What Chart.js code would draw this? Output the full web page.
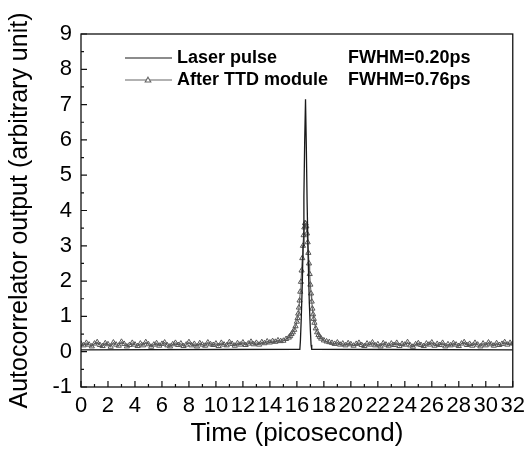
<!DOCTYPE html>
<html>
<head>
<meta charset="utf-8">
<script src="https://cdn.jsdelivr.net/npm/chart.js@4"></script>
<style>
  html, body { margin: 0; padding: 0; background: #fff; }
  #wrap { width: 531px; height: 458px; }
</style>
</head>
<body>
<div id="wrap"><canvas id="chart"></canvas></div>
<script>
const FONT = "'Liberation Sans', Arial, sans-serif";

// laser pulse trace (thin black line)
const laserTime = [0, 16.22, 16.26, 16.32, 16.4, 16.46, 16.52, 16.58, 16.64, 16.7, 16.76, 16.84, 16.92, 17.0, 17.05, 17.1, 32];
const laserValue = [0.05, 0.07, 0.3, 0.9, 1.9, 3.0, 4.4, 6.0, 7.15, 5.8, 4.2, 2.6, 1.4, 0.6, 0.2, 0.07, 0.05];

// after TTD module (grey line with open triangles)
const ttdTime = [
  0, 0.2, 0.4, 0.6, 0.8, 1, 1.2, 1.4, 1.6, 1.8,
  2, 2.2, 2.4, 2.6, 2.8, 3, 3.2, 3.4, 3.6, 3.8,
  4, 4.2, 4.4, 4.6, 4.8, 5, 5.2, 5.4, 5.6, 5.8,
  6, 6.2, 6.4, 6.6, 6.8, 7, 7.2, 7.4, 7.6, 7.8,
  8, 8.2, 8.4, 8.6, 8.8, 9, 9.2, 9.4, 9.6, 9.8,
  10, 10.2, 10.4, 10.6, 10.8, 11, 11.2, 11.4, 11.6, 11.8,
  12, 12.2, 12.4, 12.6, 12.8, 13, 13.2, 13.4, 13.6, 13.8,
  14, 14.2, 14.4, 14.6, 14.8,
  15, 15.2, 15.4, 15.5, 15.6, 15.7, 15.8, 15.9, 16, 16.05,
  16.1, 16.15, 16.2, 16.25, 16.3, 16.35, 16.4, 16.45, 16.5, 16.55,
  16.6, 16.65, 16.7, 16.75, 16.8, 16.85, 16.9, 16.95, 17, 17.05,
  17.1, 17.15, 17.2, 17.25, 17.3, 17.4, 17.5, 17.6, 17.7, 17.8,
  18, 18.2, 18.4,
  18.6, 18.8, 19, 19.2, 19.4, 19.6, 19.8, 20, 20.2, 20.4,
  20.6, 20.8, 21, 21.2, 21.4, 21.6, 21.8, 22, 22.2, 22.4,
  22.6, 22.8, 23, 23.2, 23.4, 23.6, 23.8, 24, 24.2, 24.4,
  24.6, 24.8, 25, 25.2, 25.4, 25.6, 25.8, 26, 26.2, 26.4,
  26.6, 26.8, 27, 27.2, 27.4, 27.6, 27.8, 28, 28.2, 28.4,
  28.6, 28.8, 29, 29.2, 29.4, 29.6, 29.8, 30, 30.2, 30.4,
  30.6, 30.8, 31, 31.2, 31.4, 31.6, 31.8, 32
];
const ttdValue = [
  0.22, 0.18, 0.25, 0.2, 0.15, 0.23, 0.27, 0.19, 0.16, 0.24,
  0.21, 0.14, 0.26, 0.2, 0.17, 0.28, 0.22, 0.15, 0.19, 0.25,
  0.2, 0.16, 0.23, 0.18, 0.27, 0.21, 0.14, 0.2, 0.24, 0.17,
  0.22, 0.26, 0.18, 0.15, 0.21, 0.25, 0.19, 0.23, 0.16, 0.2,
  0.27, 0.18, 0.22, 0.15, 0.24, 0.2, 0.17, 0.26, 0.21, 0.19,
  0.23, 0.16, 0.25, 0.2, 0.18, 0.27, 0.22, 0.17, 0.24, 0.2,
  0.26, 0.19, 0.23, 0.28, 0.21, 0.25, 0.2, 0.27, 0.24, 0.29,
  0.26, 0.3, 0.28, 0.32, 0.3,
  0.31, 0.36, 0.4, 0.44, 0.5, 0.55, 0.62, 0.72, 0.85, 0.95,
  1.08, 1.25, 1.45, 1.7, 1.98, 2.3, 2.65, 3.0, 3.3, 3.52,
  3.64, 3.63, 3.55, 3.35, 3.1, 2.8, 2.5, 2.2, 1.9, 1.65,
  1.42, 1.22, 1.06, 0.93, 0.82, 0.66, 0.55, 0.47, 0.42, 0.37,
  0.32, 0.29, 0.27,
  0.25, 0.22, 0.26, 0.2, 0.23, 0.18, 0.24, 0.21, 0.17, 0.22,
  0.25, 0.19, 0.16, 0.23, 0.2, 0.26, 0.18, 0.21, 0.15, 0.24,
  0.2, 0.17, 0.23, 0.19, 0.25, 0.16, 0.22, 0.2, 0.27, 0.18,
  0.14, 0.21, 0.24, 0.19, 0.16, 0.23, 0.2, 0.26, 0.17, 0.22,
  0.19, 0.25, 0.15, 0.21, 0.18, 0.24, 0.2, 0.16, 0.23, 0.27,
  0.19, 0.22, 0.17, 0.25, 0.2, 0.15, 0.23, 0.18, 0.26, 0.21,
  0.17, 0.24, 0.19, 0.22, 0.27, 0.2, 0.25, 0.23
];

const seriesNames = ["Laser pulse", "After TTD module"];
const fwhmLabels = ["FWHM=0.20ps", "FWHM=0.76ps"];

// axis ticks (major labelled, minor unlabelled)
const xMajorTicks = [0, 2, 4, 6, 8, 10, 12, 14, 16, 18, 20, 22, 24, 26, 28, 30, 32];
const xMinorTicks = [1, 3, 5, 7, 9, 11, 13, 15, 17, 19, 21, 23, 25, 27, 29, 31];
const yMajorTicks = [-1, 0, 1, 2, 3, 4, 5, 6, 7, 8, 9];
const yMinorTicks = [-0.5, 0.5, 1.5, 2.5, 3.5, 4.5, 5.5, 6.5, 7.5, 8.5];

const xTitle = "Time (picosecond)";
const yTitle = "Autocorrelator output (arbitrary unit)";

const LASER_COLOR = "#1a1a1a";
const TTD_COLOR = "#666";

function toPoints(xs, ys) {
  return xs.map((x, i) => ({ x: x, y: ys[i] }));
}

// frame, inward ticks and the in-plot legend
const framePlugin = {
  id: "frame",
  afterDatasetsDraw(chart) {
    const { ctx, chartArea: a, scales } = chart;
    ctx.save();
    ctx.strokeStyle = "#111";
    ctx.lineWidth = 1.3;
    ctx.strokeRect(a.left, a.top, a.right - a.left, a.bottom - a.top);

    ctx.lineWidth = 1.2;
    ctx.beginPath();
    xMajorTicks.forEach((v) => {
      const px = scales.x.getPixelForValue(v);
      ctx.moveTo(px, a.bottom); ctx.lineTo(px, a.bottom - 6);
    });
    xMinorTicks.forEach((v) => {
      const px = scales.x.getPixelForValue(v);
      ctx.moveTo(px, a.bottom); ctx.lineTo(px, a.bottom - 3);
    });
    yMajorTicks.forEach((v) => {
      const py = scales.y.getPixelForValue(v);
      ctx.moveTo(a.left, py); ctx.lineTo(a.left + 6, py);
    });
    yMinorTicks.forEach((v) => {
      const py = scales.y.getPixelForValue(v);
      ctx.moveTo(a.left, py); ctx.lineTo(a.left + 3, py);
    });
    ctx.stroke();

    // legend
    const lx = a.left + 44;
    const rows = [a.top + 24, a.top + 46];
    ctx.font = "bold 18px " + FONT;
    ctx.textBaseline = "middle";
    ctx.fillStyle = "#000";
    rows.forEach((ry, i) => {
      ctx.strokeStyle = i === 0 ? LASER_COLOR : TTD_COLOR;
      ctx.lineWidth = 1.1;
      ctx.beginPath();
      ctx.moveTo(lx, ry); ctx.lineTo(lx + 47, ry);
      ctx.stroke();
      if (i === 1) {
        const cx = lx + 23, r = 2.8;
        ctx.fillStyle = "#fff";
        ctx.beginPath();
        ctx.moveTo(cx, ry - r);
        ctx.lineTo(cx + r, ry + r * 0.7);
        ctx.lineTo(cx - r, ry + r * 0.7);
        ctx.closePath();
        ctx.fill();
        ctx.stroke();
        ctx.fillStyle = "#000";
      }
      ctx.fillText(seriesNames[i], lx + 52, ry);
      ctx.fillText(fwhmLabels[i], a.left + 267, ry);
    });
    ctx.restore();
  },
};

new Chart(document.getElementById("chart"), {
  type: "line",
  data: {
    datasets: [
      {
        label: seriesNames[0],
        data: toPoints(laserTime, laserValue),
        borderColor: LASER_COLOR,
        borderWidth: 1.3,
        pointRadius: 0,
        tension: 0,
        order: 0,
      },
      {
        label: seriesNames[1],
        data: toPoints(ttdTime, ttdValue),
        borderColor: TTD_COLOR,
        borderWidth: 1.1,
        pointStyle: "triangle",
        pointRadius: 3,
        pointBorderWidth: 1,
        pointBorderColor: "#555",
        pointBackgroundColor: "rgba(255,255,255,0)",
        tension: 0,
        order: 1,
      },
    ],
  },
  options: {
    animation: false,
    responsive: true,
    maintainAspectRatio: false,
    layout: { padding: { left: 0, right: 16, top: 34, bottom: 0 } },
    plugins: {
      legend: { display: false },
      tooltip: { enabled: false },
    },
    scales: {
      x: {
        type: "linear",
        min: 0,
        max: 32,
        afterFit: (scale) => { scale.height = 71; },
        grid: { drawOnChartArea: false, drawTicks: false },
        border: { display: false },
        ticks: {
          stepSize: 2,
          autoSkip: false,
          maxRotation: 0,
          padding: 6,
          color: "#000",
          font: { family: FONT, size: 22 },
        },
        title: {
          display: true,
          text: xTitle,
          color: "#000",
          font: { family: FONT, size: 26, lineHeight: 1.2 },
          padding: { top: 0, bottom: 9 },
        },
      },
      y: {
        type: "linear",
        min: -1,
        max: 9,
        afterFit: (scale) => { scale.width = 81; },
        grid: { drawOnChartArea: false, drawTicks: false },
        border: { display: false },
        ticks: {
          stepSize: 1,
          padding: 9,
          color: "#000",
          font: { family: FONT, size: 22 },
        },
        title: {
          display: true,
          text: yTitle,
          color: "#000",
          font: { family: FONT, size: 25, lineHeight: 1.2 },
          padding: { top: 5, bottom: 0 },
        },
      },
    },
  },
  plugins: [framePlugin],
});
</script>
</body>
</html>
